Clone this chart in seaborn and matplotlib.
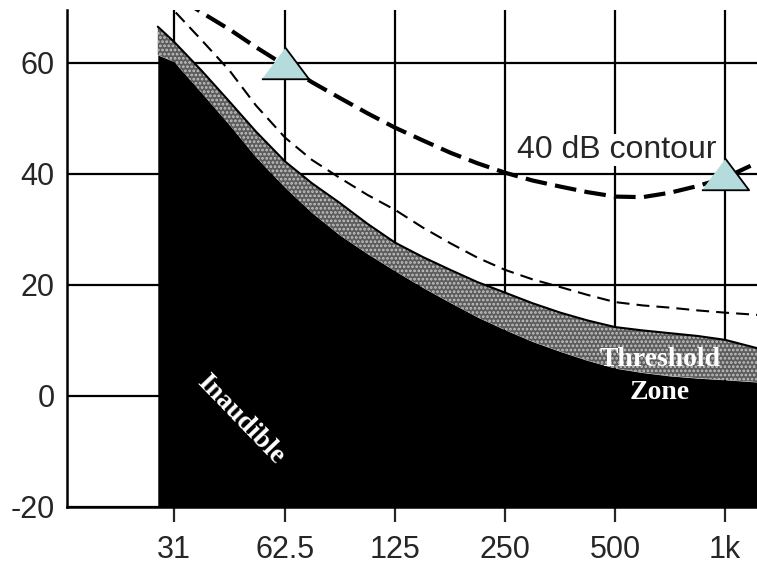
import numpy as np
import matplotlib
matplotlib.use("Agg")
import matplotlib.pyplot as plt
import seaborn as sns

freq_hz = [28, 31, 37, 44, 52, 62.5, 74, 88, 105, 125, 149, 177, 210, 250,
           297, 354, 420, 500, 595, 707, 841, 1000, 1225]
# lower edge of threshold zone (top of the black "inaudible" area), dB
threshold_low = [61.4, 60.2, 54.5, 48.8, 43.0, 37.5, 33.0, 29.0, 25.6, 22.5,
                 19.5, 16.8, 14.2, 11.9, 9.8, 8.0, 6.4, 5.0, 4.2, 3.6, 3.2, 2.9, 2.5]
# upper edge of threshold zone, dB
threshold_high = [66.5, 63.8, 58.5, 53.0, 47.6, 42.2, 38.3, 34.8, 31.0, 27.6,
                  25.0, 22.7, 20.5, 18.6, 16.7, 15.0, 13.6, 12.4, 11.8, 11.3, 10.8, 10.1, 8.6]
# thin dashed curve, dB
thin_dashed = [72.0, 69.4, 64.0, 58.6, 52.3, 46.5, 42.5, 39.3, 36.2, 33.5,
               30.3, 27.5, 24.9, 22.7, 21.0, 19.6, 18.2, 16.9, 16.3, 15.9, 15.4, 15.0, 14.6]
# thick dashed 40 dB contour, dB
contour_40 = [75.0, 72.4, 69.0, 66.0, 62.8, 59.5, 56.5, 53.7, 50.9, 48.3,
              46.0, 43.8, 41.9, 40.2, 38.8, 37.7, 36.7, 35.9, 35.8, 36.6, 37.8, 39.3, 42.0]

# triangle markers
marker_freq = [62.5, 1000]
marker_db = [60, 40]

tick_freq = [31, 62.5, 125, 250, 500, 1000]
tick_labels = ["31", "62.5", "125", "250", "500", "1k"]
db_ticks = [-20, 0, 20, 40, 60]

sns.set_style("white")
plt.rcParams["font.family"] = ["Liberation Sans", "DejaVu Sans"]
plt.rcParams["axes.unicode_minus"] = False
plt.rcParams["hatch.linewidth"] = 1.3

fig = plt.figure(figsize=(7.57, 5.69), dpi=100)
ax = fig.add_axes([67 / 757, 62 / 569, 1 - 67 / 757, 497 / 569])
ax.set_xscale("log")

# grid
ax.set_axisbelow(True)
ax.grid(True, color="black", lw=1.6)

# black inaudible area and threshold zone
ax.fill_between(freq_hz, -20, threshold_low, color="black", lw=0, zorder=2)
ax.fill_between(freq_hz, threshold_low, threshold_high, facecolor="#5c5c5c",
                edgecolor="#c4c4c4", hatch="....", lw=0, zorder=2)
sns.lineplot(x=freq_hz, y=threshold_high, ax=ax, color="black", lw=1.5, zorder=3)

# dashed curves
sns.lineplot(x=freq_hz, y=thin_dashed, ax=ax, color="black", lw=1.5,
             linestyle=(0, (6.2, 3.4)), zorder=3)
sns.lineplot(x=freq_hz, y=contour_40, ax=ax, color="black", lw=3.0,
             linestyle=(0, (5.2, 2.0)), zorder=3)

# triangles
tri = [(-1, -0.667), (1, -0.667), (0, 0.667)]
ax.plot(marker_freq, marker_db, ls="none", marker=tri, markersize=34,
        markerfacecolor="#b4dcdc", markeredgecolor="black", markeredgewidth=1.3,
        zorder=6, clip_on=False)

# labels
ax.text(505, 44.3, "40 dB contour", fontsize=23, ha="center", va="center",
        zorder=4, bbox=dict(facecolor="white", edgecolor="none", pad=1))
ax.text(663, 3.6, "Threshold\nZone", fontsize=20, fontweight="bold",
        family=["Liberation Serif", "DejaVu Serif"], color="white",
        ha="center", va="center", linespacing=1.4, zorder=4)
ax.text(47, -4.3, "Inaudible", fontsize=20, fontweight="bold",
        family=["Liberation Serif", "DejaVu Serif"], color="white",
        ha="center", va="center", rotation=-46, zorder=4)

ax.set_xlim(15.8, 1223)
ax.set_ylim(-20, 69.5)
ax.set_xticks(tick_freq, labels=tick_labels)
ax.set_xticks([], minor=True)
ax.set_yticks(db_ticks)
ax.tick_params(axis="x", direction="out", length=11, width=1.6, pad=9,
               labelsize=22, bottom=True)
ax.tick_params(axis="y", length=0, pad=9, labelsize=22)

sns.despine(ax=ax, top=True, right=True)
for s in ["left", "bottom"]:
    ax.spines[s].set_color("black")
    ax.spines[s].set_linewidth(1.8)
    ax.spines[s].set_zorder(5)

fig.savefig("out.png", dpi=100)
